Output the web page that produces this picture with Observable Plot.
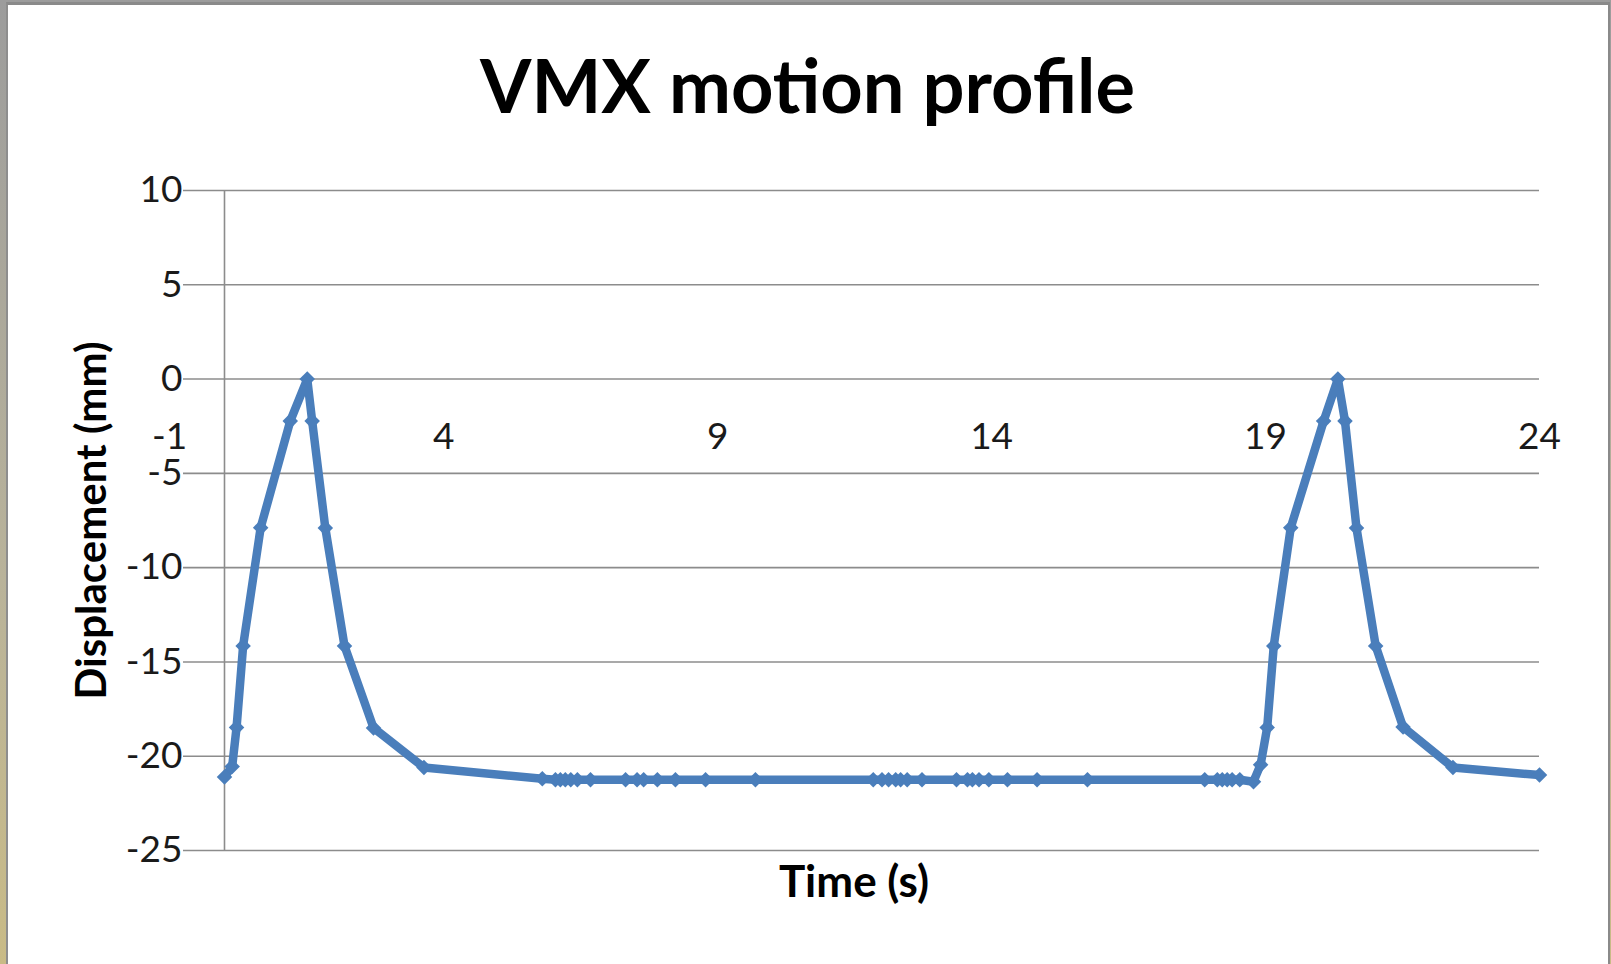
<!DOCTYPE html>
<html>
<head>
<meta charset="utf-8">
<script src="https://cdn.jsdelivr.net/npm/d3@7"></script>
<script src="https://cdn.jsdelivr.net/npm/@observablehq/plot@0.6"></script>
<style>
  html, body { margin: 0; padding: 0; }
  body { width: 1611px; height: 964px; overflow: hidden;
         background: linear-gradient(to bottom, #9c9c9c 0%, #b9b39a 60%, #c9bb86 100%); }
  #box { position: absolute; left: 6px; top: 2px; width: 1600px; height: 980px; background: #fff;
         border-top: 3px solid #8a8a8a; border-left: 2px solid #8e8e8e; border-right: 2px solid #8a8a8a; }
  #title { position: absolute; left: 0; top: 41px; width: 1615px; text-align: center;
           font-family: Lato, sans-serif; font-weight: bold; font-size: 74px; line-height: 1.2; color: #000; }
  #chart { position: absolute; left: 0; top: 0; }
</style>
</head>
<body>
<div id="box"></div>
<div id="chart"></div>
<div id="title">VMX motion profile</div>
<script>
// ---- data ----
const time = [
  0, 0.14, 0.22, 0.34, 0.66, 1.20, 1.51, 1.60, 1.84, 2.19, 2.72, 3.64,
  5.80, 6.04, 6.13, 6.22, 6.32, 6.44, 6.68, 7.32, 7.53, 7.65, 7.90, 8.23, 8.78, 9.69,
  11.84, 12.00, 12.12, 12.25, 12.34, 12.46, 12.73, 13.36, 13.56, 13.65, 13.77, 13.95, 14.29, 14.83, 15.75,
  17.89, 18.12, 18.21, 18.30, 18.39, 18.53, 18.78,
  18.91, 19.03, 19.15, 19.46, 20.06, 20.32, 20.45, 20.66, 21.01, 21.51, 22.42, 24.0
];
const displacement = [
  -21.1, -20.55, -18.48, -14.15, -7.88, -2.23, 0, -2.23, -7.9, -14.15, -18.5, -20.6,
  -21.2, -21.25, -21.25, -21.25, -21.25, -21.25, -21.25, -21.25, -21.25, -21.25, -21.25, -21.25, -21.25, -21.25,
  -21.25, -21.25, -21.25, -21.25, -21.25, -21.25, -21.25, -21.25, -21.25, -21.25, -21.25, -21.25, -21.25, -21.25, -21.25,
  -21.25, -21.25, -21.25, -21.25, -21.25, -21.25, -21.35,
  -20.45, -18.48, -14.15, -7.88, -2.23, 0, -2.23, -7.9, -14.15, -18.45, -20.6, -21.0
];
const xTicks = [-1, 4, 9, 14, 19, 24];
const yTicks = [-25, -20, -15, -10, -5, 0, 5, 10];
const xAxisCrossing = 0;
const xLabel = "Time (s)";
const yLabel = "Displacement (mm)";

const data = time.map((t, i) => ({t, d: displacement[i]}));

const blue = "#4a7ebb";
const grid = "#8c8c8c";
const fmt = d => String(d);

const chart = Plot.plot({
  width: 1611,
  height: 964,
  marginLeft: 224,
  marginRight: 72,
  marginTop: 190,
  marginBottom: 114,
  style: { background: "transparent", fontFamily: "Lato, sans-serif", color: "#1a1a1a" },
  x: { domain: [0, 24], axis: null },
  y: { domain: [-25, 10], axis: null },
  marks: [
    Plot.gridY(yTicks, { stroke: grid, strokeOpacity: 1, strokeWidth: 1.6 }),
    Plot.axisY(yTicks, { anchor: "left", tickSize: 41, tickPadding: 1, stroke: grid, strokeWidth: 1.6,
                         fill: "#1a1a1a", fontSize: 37, tickFormat: fmt, label: null }),
    Plot.ruleX([0], { stroke: grid, strokeWidth: 1.6 }),
    Plot.text(xTicks, { x: d => d, y: () => xAxisCrossing, text: fmt, dy: 58, fontSize: 37, fill: "#1a1a1a" }),
    Plot.text([xLabel], { frameAnchor: "bottom", dx: -28, dy: 46, fontSize: 44, fontWeight: "bold", fill: "#000" }),
    Plot.text([yLabel], { frameAnchor: "left", textAnchor: "middle", dx: -132, rotate: -90, fontSize: 42,
                          fontWeight: "bold", fill: "#000" }),
    Plot.line(data, { x: "t", y: "d", stroke: blue, strokeWidth: 8.5, strokeLinejoin: "round" }),
    Plot.dot(data, { x: "t", y: "d", symbol: "diamond2", r: 7, fill: blue, stroke: null })
  ]
});
document.getElementById("chart").append(chart);
</script>
</body>
</html>
